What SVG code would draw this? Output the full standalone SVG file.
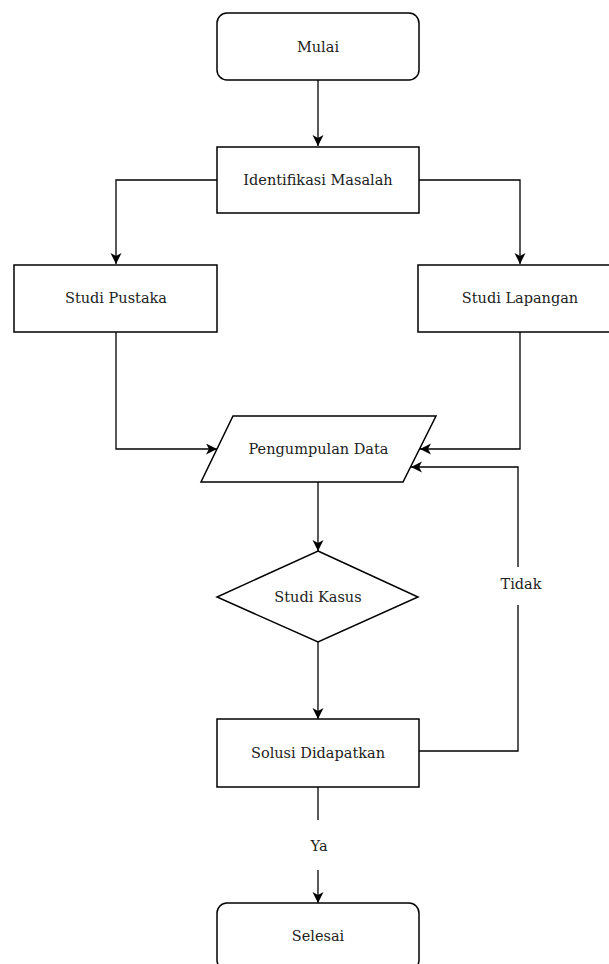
<svg xmlns="http://www.w3.org/2000/svg" width="609" height="964" viewBox="0 0 609 964">
<style>
.n{fill:#fff;stroke:#000;stroke-width:1.5}
.c{fill:none;stroke:#000;stroke-width:1.3}
.t{font-family:"DejaVu Serif","Liberation Serif",serif;font-size:14.5px;fill:#222;text-anchor:middle;dominant-baseline:central}
</style>
<defs>
<marker id="a" markerWidth="12" markerHeight="12" refX="11" refY="5.5" orient="auto" markerUnits="userSpaceOnUse">
<path d="M0,0 L11,5.5 L0,11 L3,5.5 Z" fill="#000"/>
</marker>
</defs>
<rect width="609" height="964" fill="#fff"/>
<g id="connectors">
<path class="c" d="M318,80 V146" marker-end="url(#a)"/>
<path class="c" d="M217,180 H116 V264" marker-end="url(#a)"/>
<path class="c" d="M419,180 H520 V264" marker-end="url(#a)"/>
<path class="c" d="M116,332 V449 H217" marker-end="url(#a)"/>
<path class="c" d="M520,332 V449 H420" marker-end="url(#a)"/>
<path class="c" d="M318,482 V551" marker-end="url(#a)"/>
<path class="c" d="M318,642 V719" marker-end="url(#a)"/>
<path class="c" d="M419,751 H518 V605"/>
<path class="c" d="M518,567 V467 H411" marker-end="url(#a)"/>
<path class="c" d="M318,787 V820"/>
<path class="c" d="M318,870 V903" marker-end="url(#a)"/>
<text class="t" x="521" y="584">Tidak</text>
<text class="t" x="319" y="846">Ya</text>
</g>
<g id="mulai">
<rect class="n" x="217" y="13" width="202" height="67" rx="10"/>
<text class="t" x="318" y="46.5">Mulai</text>
</g>
<g id="identifikasi">
<rect class="n" x="217" y="147" width="202" height="66"/>
<text class="t" x="318" y="180">Identifikasi Masalah</text>
</g>
<g id="pustaka">
<rect class="n" x="14" y="265" width="203" height="67"/>
<text class="t" x="116" y="298">Studi Pustaka</text>
</g>
<g id="lapangan">
<rect class="n" x="418" y="265" width="204" height="67"/>
<text class="t" x="520" y="298">Studi Lapangan</text>
</g>
<g id="pengumpulan">
<polygon class="n" points="233,416 436,416 403,482 201,482"/>
<text class="t" x="318.5" y="449">Pengumpulan Data</text>
</g>
<g id="kasus">
<polygon class="n" points="318,551 418,597 318,642 217,597"/>
<text class="t" x="318" y="597">Studi Kasus</text>
</g>
<g id="solusi">
<rect class="n" x="217" y="719" width="202" height="68"/>
<text class="t" x="318" y="753">Solusi Didapatkan</text>
</g>
<g id="selesai">
<rect class="n" x="217" y="903" width="202" height="67" rx="10"/>
<text class="t" x="318" y="936">Selesai</text>
</g>
</svg>
